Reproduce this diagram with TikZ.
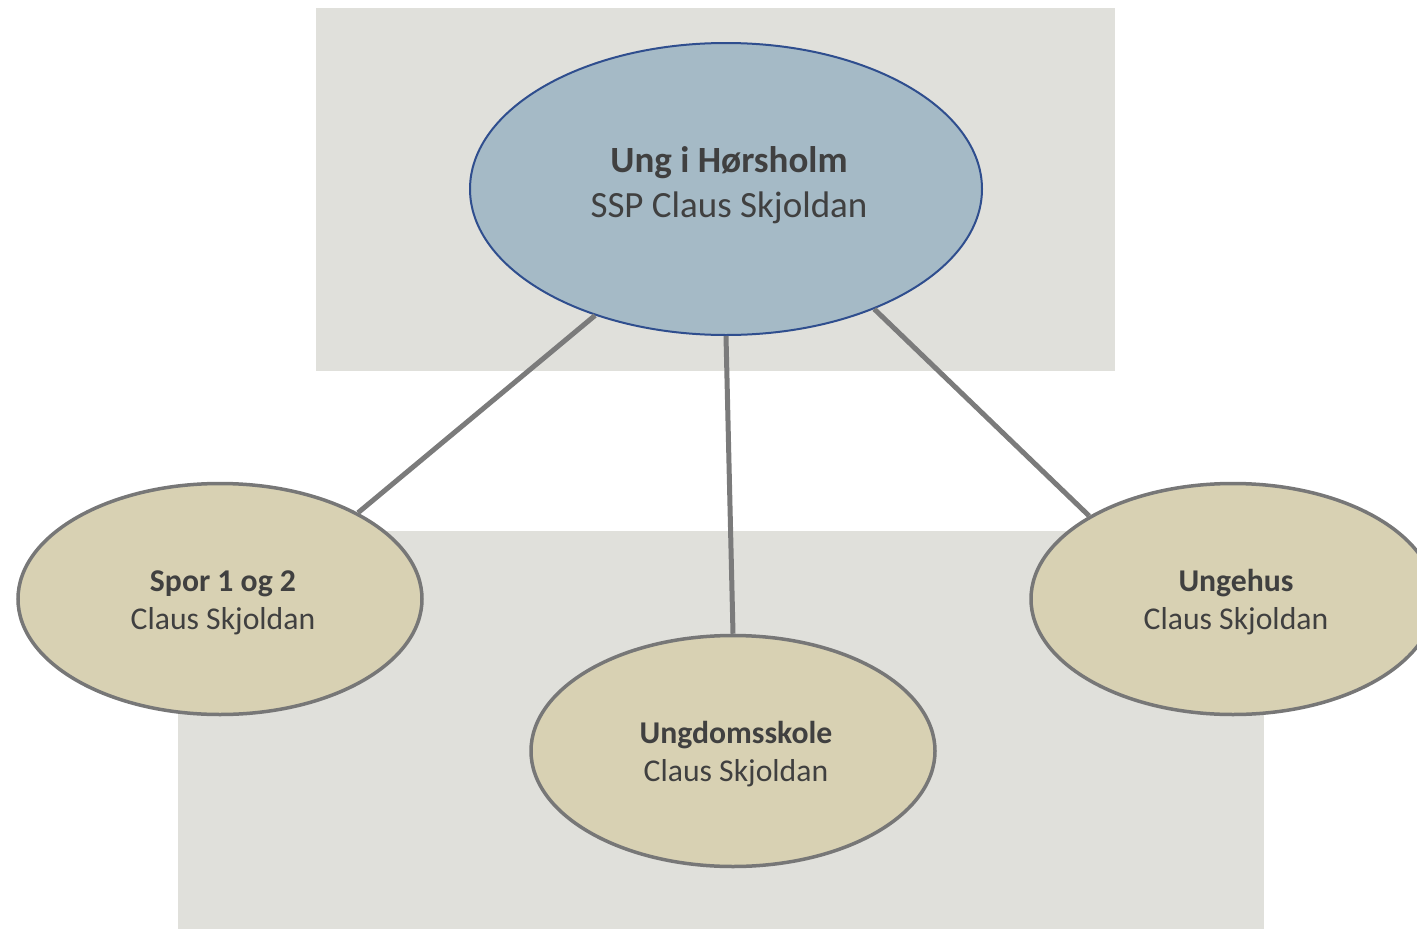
\documentclass[tikz,border=0pt]{standalone}
\usepackage{fontspec}
\setmainfont{Carlito}
\usetikzlibrary{shapes.geometric}
\definecolor{bgc}{HTML}{E0E0DB}
\definecolor{topfill}{HTML}{A5BAC6}
\definecolor{topedge}{HTML}{2F4E8E}
\definecolor{subfill}{HTML}{D8D1B3}
\definecolor{subedge}{HTML}{777777}
\definecolor{linkc}{HTML}{7B7B7B}
\definecolor{txt}{HTML}{404040}
\newcommand{\twoline}[4]{\hspace*{6pt}\raisebox{0pt}[\dimexpr\height+#3\relax][\dimexpr\depth+#4\relax]{\begin{tabular}{@{}c@{}}\textbf{#1}\\#2\end{tabular}}}
\tikzset{
  topbox/.style={ellipse, draw=topedge, line width=2pt, fill=topfill, minimum width=512pt, minimum height=292pt, inner sep=0pt, align=center, text=txt, font=\fontsize{37}{45}\selectfont},
  subbox/.style={ellipse, draw=subedge, line width=3.5pt, fill=subfill, minimum width=404pt, minimum height=231pt, inner sep=0pt, align=center, text=txt, font=\fontsize{31.7}{38}\selectfont},
  link/.style={draw=linkc, line width=5pt},
  bgrect/.style={fill=bgc}
}
\begin{document}
\begin{tikzpicture}[x=1pt,y=-1pt]
\useasboundingbox (0,0) rectangle (1417,929);
\clip (0,0) rectangle (1417,929);
\fill[bgrect] (316,8) rectangle (1115,371);
\fill[bgrect] (178,531) rectangle (1264,929);
\node[topbox] (top) at (726,189) {\twoline{Ung i Hørsholm}{SSP Claus Skjoldan}{0pt}{6pt}};
\node[subbox] (left) at (220,599) {\twoline{Spor 1 og 2}{Claus Skjoldan}{8pt}{0pt}};
\node[subbox] (mid) at (733,751) {\twoline{Ungdomsskole}{Claus Skjoldan}{8pt}{0pt}};
\node[subbox] (right) at (1233,599) {\twoline{Ungehus}{Claus Skjoldan}{8pt}{0pt}};
\draw[link] (top.224) -- (left.32);
\draw[link] (top.south) -- (mid.north);
\draw[link] (top.321) -- (right.150.5);
\end{tikzpicture}
\end{document}
